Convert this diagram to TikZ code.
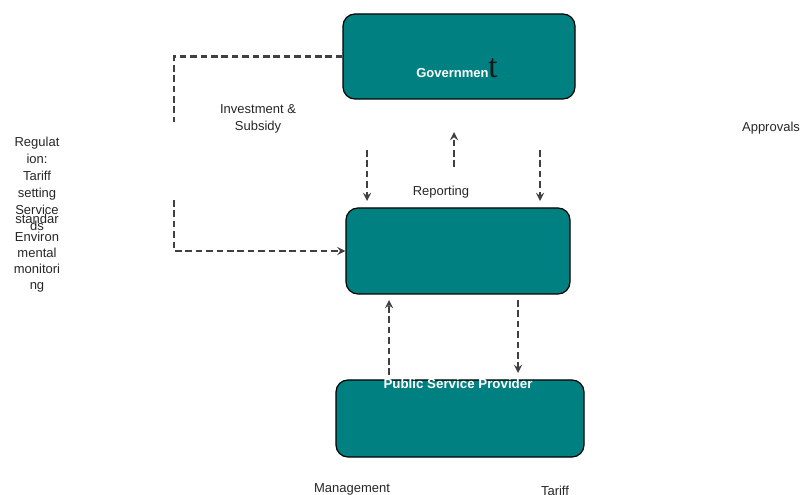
\documentclass[tikz,border=0pt]{standalone}
\usepackage{fontspec}
\setmainfont{Liberation Sans}
\newfontfamily\bigserif{Liberation Serif}
\usetikzlibrary{arrows,positioning,calc}
\tikzset{
	agency/.style={
		rectangle, rounded corners=9pt, draw=black, line width=0.9pt,
		fill={rgb,255:red,0;green,128;blue,128}, inner sep=0pt
	},
	%
	agencytext/.style={
		text=white, font=\fontsize{9.75}{12}\selectfont\bfseries, inner sep=0pt
	},
	%
	flowlabel/.style={
		text=black!85, font=\fontsize{9.75}{12.75}\selectfont, align=center, inner sep=0pt
	},
	%
	dashflow/.style={
		draw=black!75, line width=1.7pt, dash pattern=on 5pt off 2.8pt, >=stealth
	}
}
\begin{document}
\begin{tikzpicture}[x=0.75pt,y=-0.75pt]
    \clip (0,0) rectangle (800,495);
    % the three bodies
    \node(gov)[agency, minimum width=174pt, minimum height=63.75pt] at (459,56.5){};
    \node(reg)[agency, minimum width=168pt, minimum height=64.5pt] at (458,251){};
    \node(psp)[agency, minimum width=186pt, minimum height=57.75pt] at (460,418.5){};
    \node(govtext)[agencytext] at (457,68){Governmen{\bigserif\mdseries\color{black!90}\fontsize{25}{25}\selectfont t}};
    \node(psptext)[agencytext, font=\fontsize{10}{12}\selectfont\bfseries] at (458,384){Public Service Provider};
    % labels
    \node(invest)[flowlabel] at (258,119){Investment \&\\Subsidy};
    \node(report)[flowlabel] at (441,192){Reporting};
    \node(approve)[flowlabel] at (771,128){Approvals};
    \node(manage)[flowlabel] at (352,489){Management};
    \node(tariff)[flowlabel] at (555,491){Tariff};
    \node(regA)[flowlabel] at (37,176){Regulat\\ion:\\Tariff\\setting\\Service};
    \node(regB)[flowlabel] at (37,219){standar};
    \node(regC)[flowlabel] at (37,226){ds};
    \node(regD)[flowlabel, font=\fontsize{9.75}{12}\selectfont] at (37,262){Environ\\mental\\monitori\\ng};
    % free ends of the flows
    \coordinate(legTop) at (174,122);
    \coordinate(legBot) at (174,200);
    \coordinate(invTop) at (367,150);
    \coordinate(invEnd) at (367,201);
    \coordinate(repTop) at (454,132);
    \coordinate(repBot) at (454,167);
    \coordinate(aprTop) at (540,150);
    \coordinate(aprEnd) at (540,201);
    \coordinate(manTop) at (389,300);
    \coordinate(manBot) at (389,375);
    \coordinate(tarTop) at (518,300);
    \coordinate(tarEnd) at (518,373);
    % flows
    \draw[dashflow] (gov.west) -| (legTop);
    \draw[dashflow, ->] (legBot) |- (reg.west);
    \draw[dashflow, ->] (invTop) -- (invEnd);
    \draw[dashflow, ->] (repBot) -- (repTop);
    \draw[dashflow, ->] (aprTop) -- (aprEnd);
    \draw[dashflow, ->] (manBot) -- (manTop);
    \draw[dashflow, ->] (tarTop) -- (tarEnd);
\end{tikzpicture}
\end{document}
